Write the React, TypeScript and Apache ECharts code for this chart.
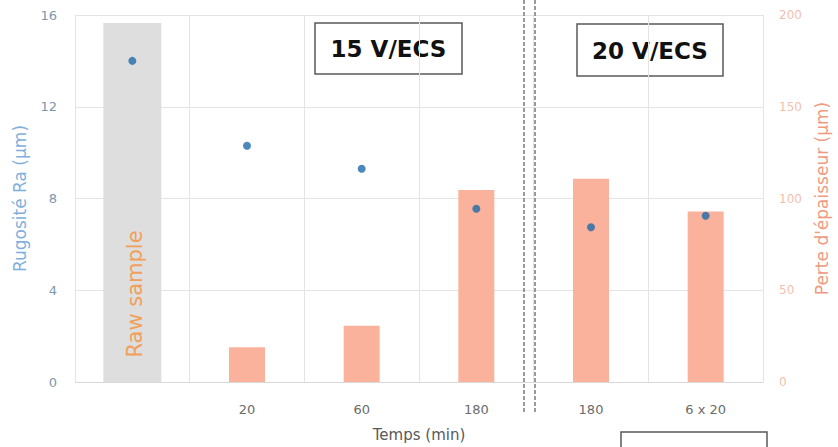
import React, { useEffect, useRef } from "react";
import * as echarts from "echarts";

const categories = ["", "20", "60", "180", "180", "6 x 20"];
const rawBand = [15.65, "-", "-", "-", "-", "-"];
const thicknessLoss = ["-", 19, 30.7, 104.6, 110.8, 92.9];
const roughness = [14.0, 10.3, 9.3, 7.55, 6.75, 7.25];
const leftTicks = { min: 0, max: 16, interval: 4 };
const rightTicks = { min: 0, max: 200, interval: 50 };

const FONT = "DejaVu Sans";

export default function App() {
  const ref = useRef<HTMLDivElement>(null);
  useEffect(() => {
    if (!ref.current) return;
    const chart = echarts.init(ref.current, null, { renderer: "svg" });
    const gridColor = "#e4e4e4";
    chart.setOption({
      animation: false,
      backgroundColor: "#ffffff",
      textStyle: { fontFamily: FONT },
      grid: { left: 75, right: 73, top: 15, bottom: 59, containLabel: false },
      xAxis: [
        {
          type: "category",
          data: categories,
          axisTick: { show: false },
          axisLine: { lineStyle: { color: "#d9d9d9" } },
          axisLabel: { color: "#6b6b6b", fontSize: 13, margin: 21, fontFamily: FONT },
          splitLine: { show: true, lineStyle: { color: gridColor } },
          name: "Temps (min)",
          nameLocation: "middle",
          nameGap: 45,
          nameTextStyle: { color: "#595959", fontSize: 15, fontFamily: FONT },
        },
        {
          type: "category",
          data: categories,
          show: false,
        },
      ],
      yAxis: [
        {
          type: "value",
          min: leftTicks.min,
          max: leftTicks.max,
          interval: leftTicks.interval,
          axisLine: { show: false },
          axisTick: { show: false },
          axisLabel: { color: "#8096ad", fontSize: 13, margin: 18, fontFamily: FONT },
          splitLine: { show: true, lineStyle: { color: gridColor } },
          name: "Rugosité Ra (µm)",
          nameLocation: "middle",
          nameGap: 47,
          nameTextStyle: { color: "#7fb0dc", fontSize: 17, fontFamily: FONT },
        },
        {
          type: "value",
          position: "right",
          min: rightTicks.min,
          max: rightTicks.max,
          interval: rightTicks.interval,
          axisLine: { show: true, lineStyle: { color: gridColor } },
          axisTick: { show: false },
          axisLabel: { color: "#f2bfb1", fontSize: 12, margin: 16, fontFamily: FONT },
          splitLine: { show: false },
          name: "Perte d'épaisseur (µm)",
          nameLocation: "middle",
          nameGap: 50,
          nameTextStyle: { color: "#ef9a80", fontSize: 17, fontFamily: FONT },
        },
      ],
      series: [
        {
          type: "bar",
          xAxisIndex: 1,
          yAxisIndex: 0,
          data: rawBand,
          barWidth: 58,
          itemStyle: { color: "#dedede" },
          z: 1,
        },
        {
          type: "bar",
          xAxisIndex: 0,
          yAxisIndex: 1,
          data: thicknessLoss,
          barWidth: 36,
          itemStyle: { color: "#fbb29d" },
          z: 2,
        },
        {
          type: "scatter",
          xAxisIndex: 0,
          yAxisIndex: 0,
          data: roughness,
          symbolSize: 8,
          itemStyle: { color: "#1f6aa8" },
          z: 5,
        },
      ],
      graphic: [
        {
          type: "text",
          x: 135,
          y: 294,
          rotation: Math.PI / 2,
          style: {
            text: "Raw sample",
            fill: "#f0a05a",
            font: `21px '${FONT}'`,
            align: "center",
            verticalAlign: "middle",
          },
          z: 10,
        },
        {
          type: "line",
          shape: { x1: 524, y1: 0, x2: 524, y2: 412 },
          style: { stroke: "#7a7a7a", lineWidth: 1.5, lineDash: [4, 2] },
          z: 10,
        },
        {
          type: "line",
          shape: { x1: 535, y1: 0, x2: 535, y2: 412 },
          style: { stroke: "#7a7a7a", lineWidth: 1.5, lineDash: [4, 2] },
          z: 10,
        },
        {
          type: "group",
          x: 315,
          y: 23,
          z: 10,
          children: [
            {
              type: "rect",
              shape: { x: 0, y: 0, width: 147, height: 51 },
              style: { fill: "#ffffff", stroke: "#5a5a5a", lineWidth: 1.5 },
            },
            {
              type: "text",
              x: 73.5,
              y: 26,
              style: {
                text: "15 V/ECS",
                fill: "#111111",
                font: `bold 23px '${FONT}'`,
                align: "center",
                verticalAlign: "middle",
              },
            },
          ],
        },
        {
          type: "group",
          x: 577,
          y: 24,
          z: 10,
          children: [
            {
              type: "rect",
              shape: { x: 0, y: 0, width: 146, height: 52 },
              style: { fill: "#ffffff", stroke: "#5a5a5a", lineWidth: 1.5 },
            },
            {
              type: "text",
              x: 73,
              y: 27,
              style: {
                text: "20 V/ECS",
                fill: "#111111",
                font: `bold 23px '${FONT}'`,
                align: "center",
                verticalAlign: "middle",
              },
            },
          ],
        },
        {
          type: "rect",
          z: 10,
          shape: { x: 621, y: 432, width: 146, height: 30 },
          style: { fill: "#ffffff", stroke: "#5a5a5a", lineWidth: 1.5 },
        },
      ],
    });
    return () => chart.dispose();
  }, []);
  return (
    <div
      ref={ref}
      style={{ position: "fixed", left: 0, top: 0, width: 838, height: 447 }}
    />
  );
}
